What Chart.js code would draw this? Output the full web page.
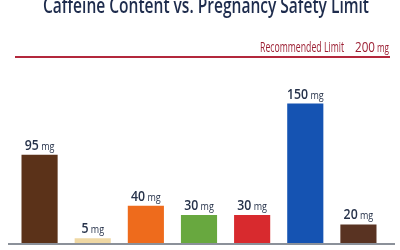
<!DOCTYPE html>
<html>
<head>
<meta charset="utf-8">
<script src="https://cdn.jsdelivr.net/npm/chart.js@4"></script>
<style>
  html, body { margin: 0; padding: 0; background: #fff; overflow: hidden; }
  #wrap { width: 400px; height: 250px; position: relative; }
</style>
</head>
<body>
<div id="wrap"><canvas id="caffeineChart"></canvas></div>
<script>
// chart data
const categories = ['Coffee', 'Decaf Coffee', 'Black Tea', 'Green Tea', 'Cola', 'Energy Drink', 'Dark Chocolate'];
const caffeineMg = [95, 5, 40, 30, 30, 150, 20];
const barColors = ['#5b3219', '#efd8a4', '#ee6b1c', '#68a83f', '#d82a2e', '#1553b2', '#593322'];
const limitMg = [200];
const titleText = 'Caffeine Content vs. Pregnancy Safety Limit';
const limitLabel = 'Recommended Limit';

const FONT = '"Open Sans", "Noto Sans", sans-serif';
const SQUEEZE = 0.82; // the original lettering is condensed

// draws text squeezed horizontally, left aligned at x
function narrowText(ctx, text, x, y, font) {
    ctx.font = font;
    const w = ctx.measureText(text).width * SQUEEZE;
    ctx.fillText(text, x, y, w);
    return w;
}
function narrowWidth(ctx, text, font) {
    ctx.font = font;
    return ctx.measureText(text).width * SQUEEZE;
}

const titlePlugin = {
    id: 'topTitle',
    afterDraw(chart) {
        const ctx = chart.ctx;
        ctx.save();
        ctx.fillStyle = '#1e2c4d';
        ctx.textAlign = 'left';
        ctx.textBaseline = 'alphabetic';
        ctx.font = '600 22px ' + FONT;
        ctx.fillText(titleText, 43, 13, 326);
        ctx.restore();
    },
};

const limitPlugin = {
    id: 'limitLine',
    afterDatasetsDraw(chart) {
        const ctx = chart.ctx;
        const y = chart.scales.y.getPixelForValue(limitMg[0]);
        ctx.save();
        ctx.strokeStyle = '#b3283c';
        ctx.lineWidth = 2;
        ctx.beginPath();
        ctx.moveTo(15, y);
        ctx.lineTo(390, y);
        ctx.stroke();

        ctx.fillStyle = '#9c1f33';
        ctx.textAlign = 'left';
        ctx.textBaseline = 'alphabetic';
        const by = y - 5;
        ctx.font = '14px ' + FONT;
        ctx.fillText(limitLabel, 260, by, 84);
        ctx.fillText(String(limitMg[0]), 355, by, 20);
        ctx.font = '12px ' + FONT;
        ctx.fillText('mg', 377, by, 12);
        ctx.restore();
    },
};

const valueLabelPlugin = {
    id: 'valueLabels',
    afterDatasetsDraw(chart) {
        const ctx = chart.ctx;
        const meta = chart.getDatasetMeta(0);
        const fNum = '600 15px ' + FONT;
        const fUnit = '11px ' + FONT;
        ctx.save();
        ctx.fillStyle = '#26324a';
        ctx.textBaseline = 'alphabetic';
        ctx.textAlign = 'left';
        meta.data.forEach((bar, i) => {
            const num = String(caffeineMg[i]);
            const nw = narrowWidth(ctx, num, fNum);
            const uw = narrowWidth(ctx, ' mg', fUnit);
            const start = bar.x - (nw + uw) / 2;
            narrowText(ctx, num, start, bar.y - 5, fNum);
            narrowText(ctx, ' mg', start + nw, bar.y - 5, fUnit);
        });
        ctx.restore();
    },
};

const baselinePlugin = {
    id: 'baseline',
    afterDatasetsDraw(chart) {
        const ctx = chart.ctx;
        const y = chart.scales.y.getPixelForValue(0);
        ctx.save();
        ctx.strokeStyle = '#8b919a';
        ctx.lineWidth = 2;
        ctx.beginPath();
        ctx.moveTo(8, y + 1);
        ctx.lineTo(395, y + 1);
        ctx.stroke();
        ctx.restore();
    },
};

new Chart(document.getElementById('caffeineChart'), {
    type: 'bar',
    data: {
        labels: categories,
        datasets: [
            {
                label: 'Caffeine (mg)',
                data: caffeineMg,
                backgroundColor: barColors,
                borderWidth: 0,
                barPercentage: 0.68,
                categoryPercentage: 1,
            },
        ],
    },
    options: {
        responsive: true,
        maintainAspectRatio: false,
        animation: false,
        layout: {
            padding: { top: 57, bottom: 7, left: 13, right: 15 },
        },
        plugins: {
            legend: { display: false },
            tooltip: { enabled: false },
            title: { display: false },
        },
        scales: {
            x: {
                display: false,
                grid: { display: false },
            },
            y: {
                display: false,
                min: 0,
                max: limitMg[0],
                grid: { display: false },
            },
        },
    },
    plugins: [titlePlugin, limitPlugin, valueLabelPlugin, baselinePlugin],
});
</script>
</body>
</html>
